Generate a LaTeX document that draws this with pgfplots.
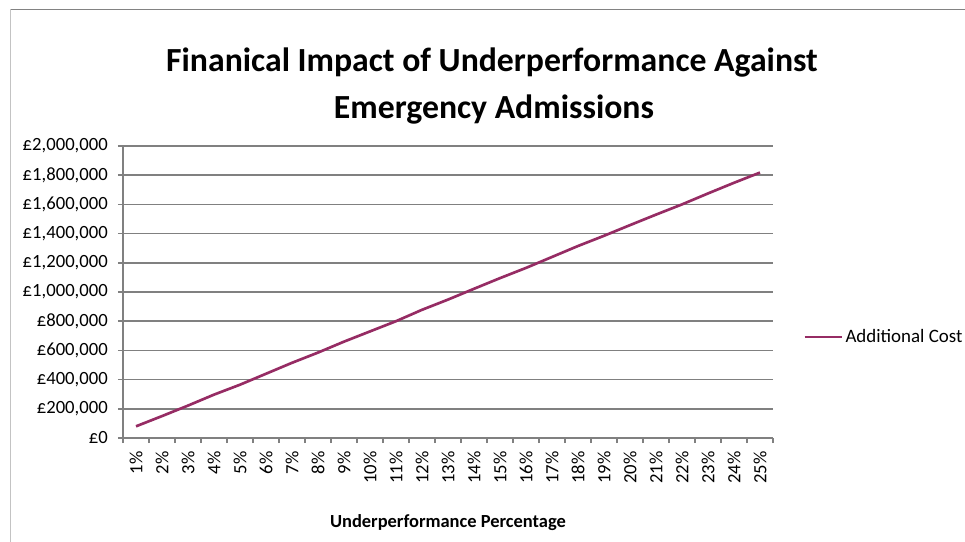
\documentclass[border=0pt]{standalone}
\usepackage{fontspec}
\setmainfont{Carlito}
\usepackage{pgfplots}
\pgfplotsset{compat=1.18}
\definecolor{series}{RGB}{150,44,100}
\definecolor{gridc}{RGB}{128,128,128}
\begin{document}
\begin{tikzpicture}
\useasboundingbox (0,0) rectangle (723.75pt,-406.5pt);
% chart border (partly cropped)
\draw[line width=1.1pt, color={rgb,255:red,130;green,130;blue,130}] (7.5pt,-7.1pt) -- (723.75pt,-7.1pt);
\draw[line width=1.1pt, color={rgb,255:red,195;green,195;blue,195}] (7.9pt,-7.1pt) -- (7.9pt,-406.5pt);
\begin{axis}[
  at={(92.25pt,-109.5pt)}, anchor=north west,
  scale only axis, width=487.5pt, height=219pt,
  xmin=0.5, xmax=25.5, ymin=0, ymax=2000000,
  axis x line*=bottom, axis y line*=left,
  axis line style={gridc, line width=1.1pt, -},
  xtick={0.5,1.5,...,25.5},
  x tick label as interval,
  xticklabels={1\%,2\%,3\%,4\%,5\%,6\%,7\%,8\%,9\%,10\%,11\%,12\%,13\%,14\%,15\%,16\%,17\%,18\%,19\%,20\%,21\%,22\%,23\%,24\%,25\%},
  xticklabel style={rotate=90, anchor=east, inner sep=0pt, font=\fontsize{14}{16}\selectfont},
  xticklabel shift=6pt,
  ytick={0,200000,400000,600000,800000,1000000,1200000,1400000,1600000,1800000,2000000},
  yticklabels={£0,{£200,000},{£400,000},{£600,000},{£800,000},{£1,000,000},{£1,200,000},{£1,400,000},{£1,600,000},{£1,800,000},{£2,000,000}},
  yticklabel style={anchor=east, inner sep=0pt, font=\fontsize{14}{16}\selectfont},
  yticklabel shift=7.5pt,
  tick align=outside,
  major tick length=3.75pt,
  tick style={gridc, line width=1.1pt},
  ymajorgrids,
  grid style={gridc, line width=1.1pt},
  scaled y ticks=false,
  clip=false,
  legend style={at={(1.046,0.346)}, anchor=west, draw=none, fill=none, inner sep=0pt,
    font=\fontsize{14.2}{16}\selectfont},
  legend cell align=left,
  legend image code/.code={\draw[#1] (0pt,0pt) -- (27.75pt,0pt);},
]
\addplot[series, line width=2pt] coordinates {
(1,80000) (2,150000) (3,222000) (4,297000) (5,365000)
(6,440000) (7,515000) (8,585000) (9,660000) (10,730000)
(11,800000) (12,878000) (13,948000) (14,1022000) (15,1095000)
(16,1165000) (17,1240000) (18,1315000) (19,1385000) (20,1458000)
(21,1530000) (22,1600000) (23,1675000) (24,1748000) (25,1818000)
};
\addlegendentry{Additional Cost}
\end{axis}
\node[font=\bfseries\fontsize{25.3}{28}\selectfont] at (369pt,-47.25pt) {Finanical Impact of Underperformance Against};
\node[font=\bfseries\fontsize{25.3}{28}\selectfont] at (370.5pt,-82.5pt) {Emergency Admissions};
\node[font=\bfseries\fontsize{13.85}{16}\selectfont] at (336pt,-392.25pt) {Underperformance Percentage};
\end{tikzpicture}
\end{document}
